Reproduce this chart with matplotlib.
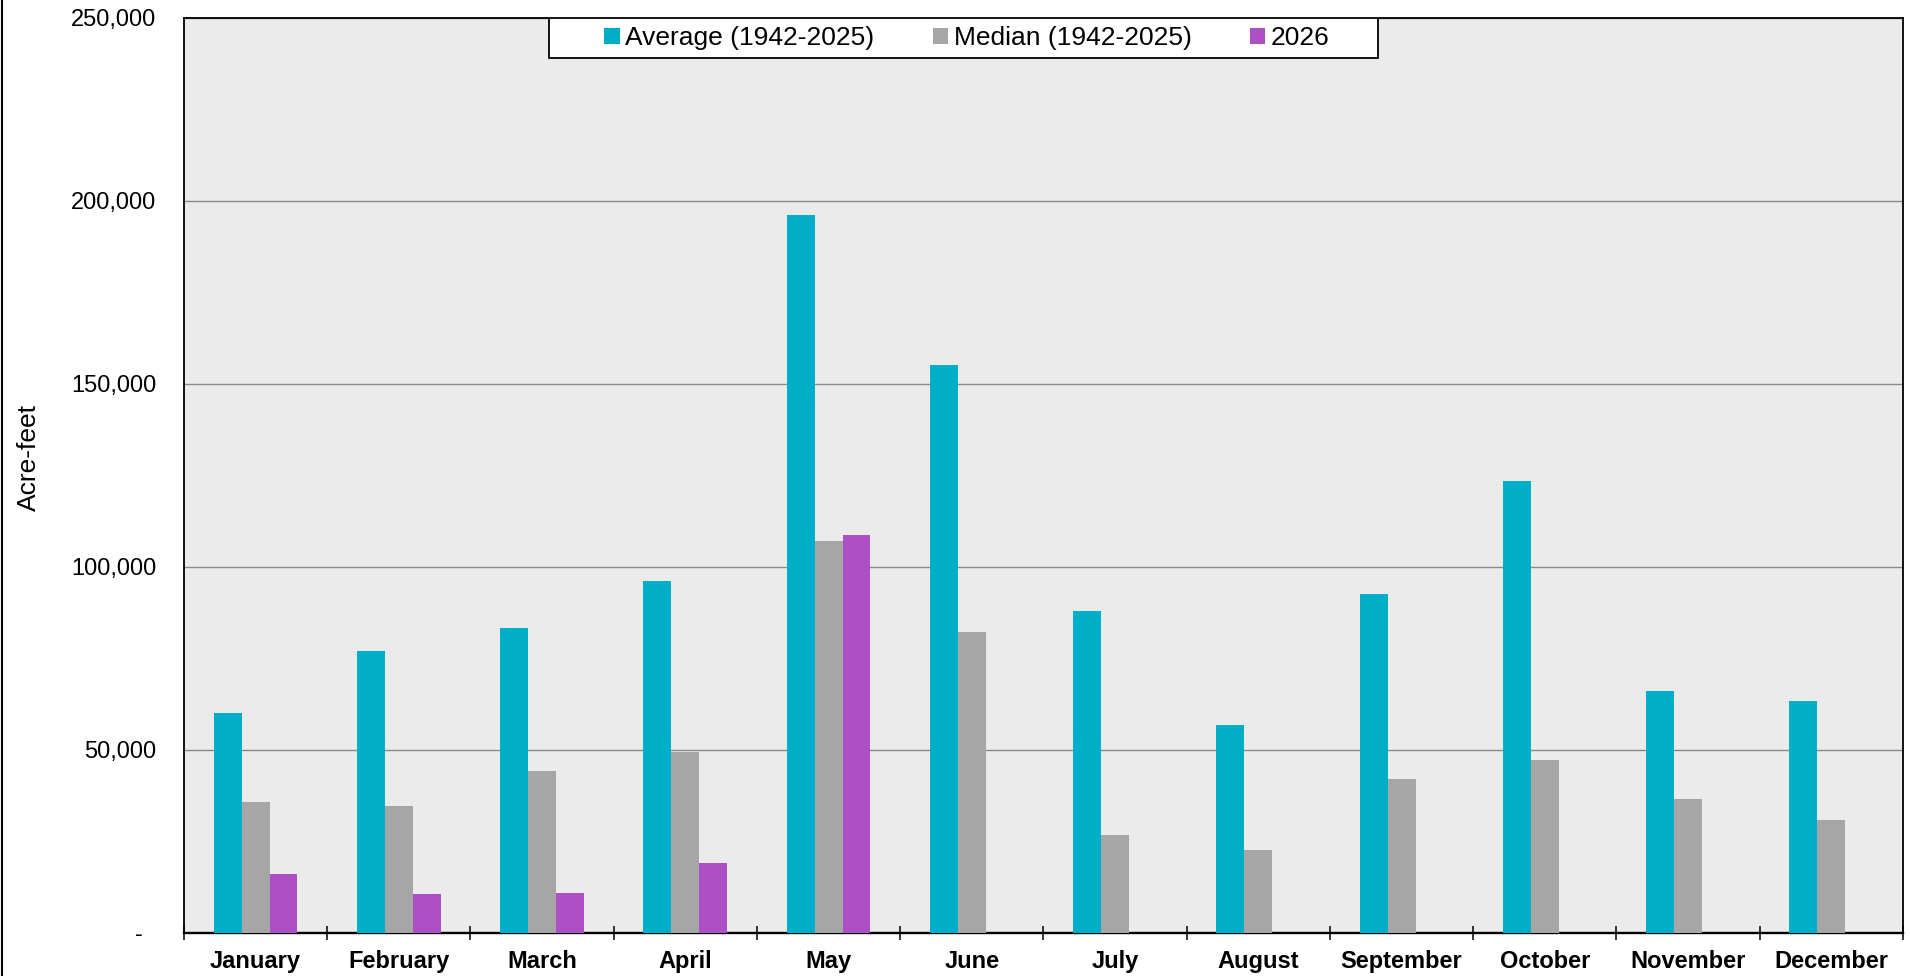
import numpy as np
import matplotlib
matplotlib.use("Agg")
import matplotlib.pyplot as plt
from matplotlib.patches import Rectangle
from matplotlib.lines import Line2D

months = ["January", "February", "March", "April", "May", "June",
          "July", "August", "September", "October", "November", "December"]
average = [60200, 77000, 83300, 96200, 196200, 155300,
           88100, 56900, 92500, 123400, 66200, 63500]
median = [35700, 34600, 44300, 49500, 107100, 82100,
          26900, 22800, 42200, 47200, 36600, 30800]
y2026 = [16000, 10700, 10900, 19000, 108700]
yticks = [0, 50000, 100000, 150000, 200000, 250000]
ytick_labels = ["-  ", "50,000", "100,000", "150,000", "200,000", "250,000"]

plt.rcParams['font.family'] = ['Liberation Sans', 'DejaVu Sans']

fig = plt.figure(figsize=(19.1, 9.76), dpi=100)
ax = fig.add_axes([0.0963, 0.0441, 0.9000, 0.9375])
ax.set_facecolor("#EBEBEB")

x = np.arange(len(months))
w = 0.195
ax.bar(x - w, average, w, color="#00AEC7", label="Average (1942-2025)", zorder=3)
ax.bar(x, median, w, color="#A6A6A6", label="Median (1942-2025)", zorder=3)
ax.bar(x[:len(y2026)] + w, y2026, w, color="#AD4FC5", label="2026", zorder=3)

ax.set_xlim(-0.5, 11.5)
ax.set_ylim(0, 250000)
ax.set_yticks(yticks)
ax.set_yticklabels(ytick_labels, fontsize=17)
ax.tick_params(axis="y", length=0, pad=20)
ax.yaxis.grid(True, color="#8A8A8A", linewidth=1.0, zorder=1)

ax.set_xticks(x)
ax.set_xticklabels(months, fontsize=17, fontweight="bold")
ax.set_xticks(np.arange(-0.5, 12, 1), minor=True)
ax.tick_params(axis="x", which="major", length=0, pad=12)
ax.tick_params(axis="x", which="minor", length=10, width=1.1, direction="inout", color="black")

for s in ax.spines.values():
    s.set_linewidth(1.3)
    s.set_color("black")
ax.spines["bottom"].set_linewidth(1.7)

ax.set_ylabel("Acre-feet", fontsize=19)
ax.yaxis.set_label_coords(-0.0834, 0.52)

# legend box drawn by hand so it spans the reference width
box = Rectangle((0.2122, 0.956), 0.4826, 0.044, transform=ax.transAxes,
                facecolor="white", edgecolor="black", linewidth=1.3, zorder=5)
ax.add_patch(box)
leg = ax.legend(loc="center left", bbox_to_anchor=(0.2445, 0.978), ncol=3,
                frameon=False, fontsize=19, handlelength=0.58, handleheight=0.58,
                handletextpad=0.22, columnspacing=2.2, borderpad=0, borderaxespad=0)
leg.set_zorder(6)

fig.add_artist(Line2D([0.0008, 0.0008], [0, 1], transform=fig.transFigure,
                      color="black", linewidth=1.5))

fig.savefig("out.png", dpi=100)
